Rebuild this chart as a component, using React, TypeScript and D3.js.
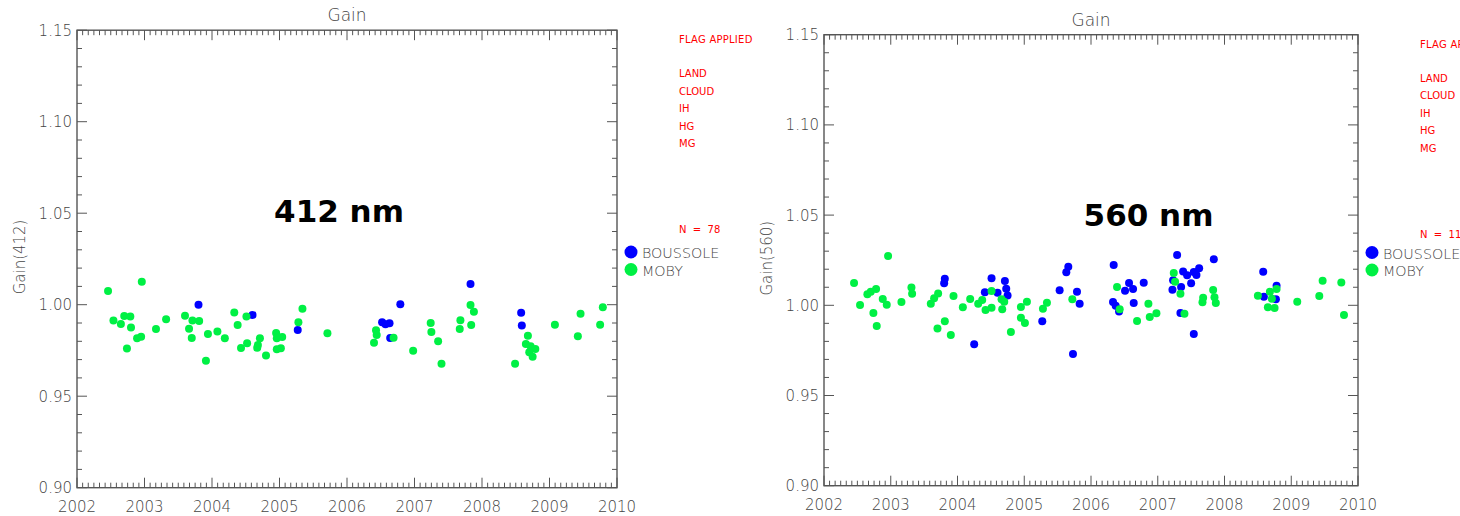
import React from 'react';
import * as d3 from 'd3';

// axis ticks
const yearTicks = [2002, 2003, 2004, 2005, 2006, 2007, 2008, 2009, 2010];
const gainTicks = [0.9, 0.95, 1.0, 1.05, 1.1, 1.15];
const flagNames = ['LAND', 'CLOUD', 'IH', 'HG', 'MG'];

// [decimal year, gain]
const boussole412: [number, number][] = [
  [2003.8, 1.0], [2004.6, 0.9944], [2005.27, 0.9862], [2006.52, 0.9904], [2006.57, 0.9893],
  [2006.63, 0.9898], [2006.64, 0.9818], [2006.79, 1.0002], [2007.83, 1.0113], [2008.58, 0.9956],
  [2008.59, 0.9887],
];

const moby412: [number, number][] = [
  [2002.46, 1.0075], [2002.96, 1.0126], [2002.54, 0.9913], [2002.65, 0.9895], [2002.7, 0.9938],
  [2002.79, 0.9935], [2002.8, 0.9876], [2002.74, 0.976], [2002.89, 0.9816], [2002.95, 0.9825],
  [2003.17, 0.9867], [2003.32, 0.992], [2003.6, 0.994], [2003.71, 0.9913], [2003.81, 0.9911],
  [2003.66, 0.9869], [2003.7, 0.9818], [2003.91, 0.9694], [2003.94, 0.984], [2004.08, 0.9853],
  [2004.19, 0.9816], [2004.33, 0.9958], [2004.38, 0.9889], [2004.51, 0.9935], [2004.43, 0.9763],
  [2004.52, 0.9789], [2004.67, 0.9765], [2004.68, 0.978], [2004.71, 0.9816], [2004.8, 0.9723],
  [2004.95, 0.9845], [2004.96, 0.9816], [2005.04, 0.9823], [2004.96, 0.9756], [2005.02, 0.9762],
  [2005.28, 0.9904], [2005.34, 0.9978], [2005.71, 0.9844], [2006.4, 0.9792], [2006.43, 0.986],
  [2006.44, 0.9834], [2006.69, 0.982], [2006.98, 0.9749], [2007.24, 0.99], [2007.25, 0.9851],
  [2007.35, 0.98], [2007.4, 0.9678], [2007.68, 0.9915], [2007.67, 0.9867], [2007.83, 0.9998],
  [2007.88, 0.9962], [2007.84, 0.9889], [2008.49, 0.9678], [2008.68, 0.9831], [2008.65, 0.9785],
  [2008.72, 0.9773], [2008.79, 0.9758], [2008.7, 0.974], [2008.75, 0.9716], [2009.08, 0.9891],
  [2009.42, 0.9827], [2009.46, 0.9951], [2009.75, 0.9891], [2009.79, 0.9986],
];

const boussole560: [number, number][] = [
  [2003.81, 1.0147], [2003.8, 1.0122], [2004.25, 0.9784], [2004.41, 1.0072], [2004.51, 1.015],
  [2004.6, 1.007], [2004.71, 1.0135], [2004.73, 1.0092], [2004.75, 1.0055], [2005.27, 0.9911],
  [2005.53, 1.0083], [2005.63, 1.0183], [2005.66, 1.0214], [2005.73, 0.973], [2005.79, 1.0075],
  [2005.83, 1.0009], [2006.34, 1.0223], [2006.33, 1.0018], [2006.37, 0.9998], [2006.42, 0.9965],
  [2006.51, 1.0081], [2006.57, 1.0124], [2006.63, 1.009], [2006.64, 1.0013], [2006.79, 1.0125],
  [2007.29, 1.0279], [2007.23, 1.0139], [2007.22, 1.0086], [2007.35, 1.0101], [2007.34, 0.9957],
  [2007.38, 1.0188], [2007.44, 1.0166], [2007.5, 1.0122], [2007.54, 1.0185], [2007.58, 1.0168],
  [2007.62, 1.0205], [2007.54, 0.9841], [2007.84, 1.0255], [2008.58, 1.0186], [2008.59, 1.0048],
  [2008.78, 1.0109], [2008.77, 1.0033],
];

const moby560: [number, number][] = [
  [2002.45, 1.0124], [2002.96, 1.0273], [2002.54, 1.0002], [2002.65, 1.0061], [2002.7, 1.0075],
  [2002.78, 1.009], [2002.74, 0.9957], [2002.79, 0.9885], [2002.88, 1.0035], [2002.94, 1.0003],
  [2003.16, 1.0018], [2003.31, 1.0098], [2003.32, 1.0064], [2003.6, 1.0009], [2003.65, 1.0039],
  [2003.71, 1.0066], [2003.7, 0.9872], [2003.81, 0.9911], [2003.9, 0.9835], [2003.94, 1.0052],
  [2004.08, 0.9989], [2004.19, 1.0035], [2004.31, 1.0009], [2004.37, 1.0029], [2004.42, 0.9974],
  [2004.51, 1.0079], [2004.51, 0.9987], [2004.66, 1.0033], [2004.7, 1.002], [2004.67, 0.9978],
  [2004.8, 0.9852], [2004.95, 0.9991], [2005.04, 1.002], [2004.95, 0.9931], [2005.01, 0.9902],
  [2005.28, 0.9981], [2005.34, 1.0014], [2005.72, 1.0033], [2006.39, 1.0101], [2006.43, 0.9978],
  [2006.69, 0.9913], [2006.86, 1.0009], [2006.88, 0.9935], [2006.98, 0.9956], [2007.24, 1.0179],
  [2007.26, 1.0131], [2007.34, 1.0064], [2007.4, 0.9953], [2007.68, 1.0042], [2007.67, 1.0017],
  [2007.83, 1.0085], [2007.85, 1.0044], [2007.87, 1.0013], [2008.5, 1.0053], [2008.68, 1.0075],
  [2008.71, 1.0037], [2008.78, 1.009], [2008.65, 0.9989], [2008.75, 0.9985], [2009.09, 1.002],
  [2009.42, 1.0052], [2009.47, 1.0136], [2009.75, 1.0127], [2009.79, 0.9946],
];

const FONT = '"DejaVu Sans", sans-serif';
const AXIS = '#555';
const BLUE = '#0000ff';
const GREEN = '#00f044';

type PanelProps = {
  band: string;
  count: string;
  boussole: [number, number][];
  moby: [number, number][];
  left: number;
  right: number;
  top: number;
  bottom: number;
  legendY: number;
  bandX: number;
  bandY: number;
};

function Panel({ band, count, boussole, moby, left, right, top, bottom, legendY, bandX, bandY }: PanelProps) {
  const x = d3.scaleLinear().domain([2002, 2010]).range([left, right]);
  const y = d3.scaleLinear().domain([0.9, 1.15]).range([bottom, top]);
  const months = d3.range(0, 97).map((i) => 2002 + i / 12);
  const minorGain = d3.range(0, 26).map((i) => 0.9 + i * 0.01);
  const fmt = d3.format('.2f');
  const cx = (left + right) / 2;
  const tx = right + 62;

  return (
    <g>
      <text x={cx} y={top - 9} textAnchor="middle" fontSize={17} fill="#444" fontFamily={FONT} fontWeight={300}>
        Gain
      </text>
      <rect x={left} y={top} width={right - left} height={bottom - top} fill="none" stroke={AXIS} strokeWidth={1.4} />
      {months.map((m, i) => {
        const len = i % 12 === 0 ? 10 : 5;
        return (
          <g key={'m' + i} stroke={AXIS} strokeWidth={1}>
            <line x1={x(m)} x2={x(m)} y1={bottom} y2={bottom - len} />
            <line x1={x(m)} x2={x(m)} y1={top} y2={top + len} />
          </g>
        );
      })}
      {minorGain.map((g, i) => {
        const len = i % 5 === 0 ? 10 : 5;
        return (
          <g key={'g' + i} stroke={AXIS} strokeWidth={1}>
            <line x1={left} x2={left + len} y1={y(g)} y2={y(g)} />
            <line x1={right} x2={right - len} y1={y(g)} y2={y(g)} />
          </g>
        );
      })}
      {yearTicks.map((t) => (
        <text key={t} x={x(t)} y={bottom + 24} textAnchor="middle" fontSize={15} fill="#444" fontFamily={FONT} fontWeight={300}>
          {t}
        </text>
      ))}
      {gainTicks.map((t) => (
        <text key={t} x={left - 5} y={y(t)} dy="0.36em" textAnchor="end" fontSize={15} fill="#444" fontFamily={FONT} fontWeight={300}>
          {fmt(t)}
        </text>
      ))}
      <text
        transform={`translate(${left - 52},${(top + bottom) / 2 - 2}) rotate(-90)`}
        textAnchor="middle"
        fontSize={15}
        fill="#444"
        fontFamily={FONT}
        fontWeight={300}
      >
        {`Gain(${band})`}
      </text>
      <text x={bandX} y={bandY} textAnchor="middle" fontSize={31} fontWeight="bold" fill="#000" fontFamily={FONT}>
        {`${band} nm`}
      </text>

      {boussole.map((d, i) => (
        <circle key={'b' + i} cx={x(d[0])} cy={y(d[1])} r={4} fill={BLUE} />
      ))}
      {moby.map((d, i) => (
        <circle key={'g' + i} cx={x(d[0])} cy={y(d[1])} r={4} fill={GREEN} />
      ))}

      <g fontSize={10} fill="#ff0000" fontFamily={FONT}>
        <text x={tx} y={top + 13} letterSpacing={0.25}>FLAG APPLIED</text>
        {flagNames.map((f, i) => (
          <text key={f} x={tx} y={top + 47 + i * 17.5}>
            {f}
          </text>
        ))}
        <text x={tx} y={top + 203} style={{ whiteSpace: 'pre' }}>
          {count}
        </text>
      </g>

      <circle cx={right + 14} cy={legendY} r={6.5} fill={BLUE} />
      <text x={right + 25} y={legendY + 6} fontSize={14.3} fill="#444" fontFamily={FONT} fontWeight={300}>
        BOUSSOLE
      </text>
      <circle cx={right + 14} cy={legendY + 17.5} r={6.5} fill={GREEN} />
      <text x={right + 25} y={legendY + 23.5} fontSize={14.3} fill="#444" fontFamily={FONT} fontWeight={300}>
        MOBY
      </text>
    </g>
  );
}

export default function App() {
  return (
    <svg
      width={1460}
      height={516}
      style={{ position: 'absolute', left: 0, top: 0, background: '#fff' }}
    >
      <rect width={1460} height={516} fill="#fff" />
      <Panel
        band="412"
        count="N  =  78"
        boussole={boussole412}
        moby={moby412}
        left={77}
        right={617}
        top={30.2}
        bottom={487.7}
        legendY={252}
        bandX={339}
        bandY={222}
      />
      <Panel
        band="560"
        count="N  =  115"
        boussole={boussole560}
        moby={moby560}
        left={824}
        right={1358}
        top={34.7}
        bottom={485.7}
        legendY={252.5}
        bandX={1148.5}
        bandY={226}
      />
    </svg>
  );
}
